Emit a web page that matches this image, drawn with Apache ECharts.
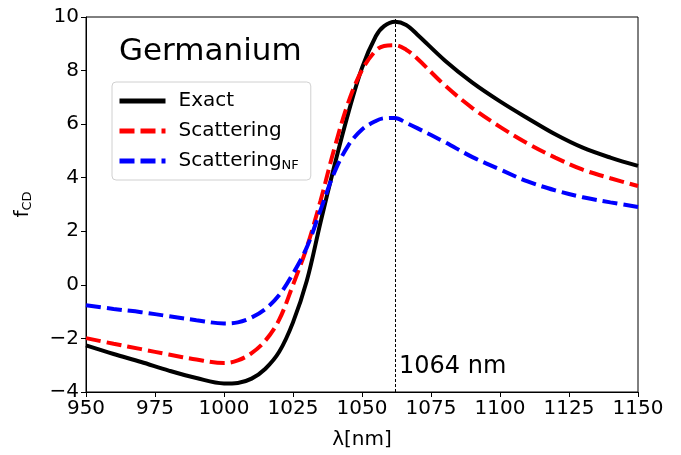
<!DOCTYPE html>
<html>
<head>
<meta charset="utf-8">
<script src="https://cdn.jsdelivr.net/npm/echarts@6/dist/echarts.min.js"></script>
<style>
  html, body { margin: 0; padding: 0; background: #fff; }
  #chart { width: 681px; height: 455px; }
</style>
</head>
<body>
<div id="chart"></div>
<script>
// wavelength grid (nm)
const lambda = [950, 960, 970, 980, 990, 1000, 1005, 1010, 1015, 1020, 1025, 1030, 1035, 1040, 1045,
  1050, 1055, 1058, 1062, 1066, 1070, 1080, 1090, 1100, 1110, 1120, 1130, 1140, 1150]

const exact = [-2.26, -2.58, -2.88, -3.20, -3.48, -3.68, -3.66, -3.50, -3.13, -2.50, -1.40, 0.15, 2.35,
  4.45, 6.40, 8.10, 9.28, 9.66, 9.82, 9.70, 9.35, 8.38, 7.55, 6.85, 6.22, 5.62, 5.12, 4.75, 4.44]

const scattering = [-1.99, -2.20, -2.40, -2.60, -2.79, -2.92, -2.82, -2.55, -2.08, -1.30, 0.00, 1.40, 3.15,
  5.10, 6.80, 8.02, 8.75, 8.92, 8.95, 8.78, 8.45, 7.45, 6.60, 5.90, 5.28, 4.75, 4.30, 3.98, 3.69]

const scatteringNF = [-0.76, -0.90, -1.02, -1.17, -1.32, -1.44, -1.40, -1.22, -0.90, -0.38, 0.42, 1.40, 2.80,
  4.20, 5.20, 5.80, 6.12, 6.22, 6.23, 6.05, 5.85, 5.33, 4.77, 4.31, 3.86, 3.53, 3.27, 3.08, 2.91]

const peakLine = 1062

const font = 'DejaVu Sans'
const pairs = (ys) => lambda.map((x, i) => [x, ys[i]])
const sub = { fontFamily: font, fontSize: 13, verticalAlign: 'bottom', padding: [9, 0, 0, 0], color: '#000' }

const chart = echarts.init(document.getElementById('chart'))

chart.setOption({
  animation: false,
  textStyle: { fontFamily: font },
  grid: { left: 86, right: 43, top: 17, bottom: 61, show: true, borderColor: '#000', borderWidth: 1 },
  title: {
    text: 'Germanium',
    left: 114,
    top: 31,
    textStyle: { fontFamily: font, fontSize: 31, fontWeight: 'normal', color: '#000' },
  },
  legend: {
    left: 112,
    top: 82,
    orient: 'vertical',
    itemWidth: 46,
    itemHeight: 14,
    itemGap: 10,
    padding: [9, 12, 8, 5],
    borderColor: '#d0d0d0',
    borderWidth: 1,
    borderRadius: 4,
    backgroundColor: 'rgba(255,255,255,0.8)',
    itemStyle: { opacity: 0 },
    lineStyle: { width: 5 },
    data: ['Exact', 'Scattering', 'ScatteringNF'],
    formatter: (name) => name === 'ScatteringNF' ? 'Scattering{sub|NF}' : name,
    textStyle: {
      fontFamily: font,
      fontSize: 20,
      color: '#000',
      padding: [0, 0, 0, 8],
      rich: { sub },
    },
  },
  xAxis: {
    type: 'value',
    min: 950,
    max: 1150,
    interval: 25,
    name: 'λ[nm]',
    nameLocation: 'middle',
    nameGap: 38,
    nameTextStyle: { fontFamily: font, fontSize: 20, color: '#000' },
    axisLine: { onZero: false, lineStyle: { color: '#000', width: 1 } },
    axisTick: { inside: false, length: 5, lineStyle: { color: '#000' } },
    axisLabel: { fontFamily: font, fontSize: 20, color: '#000', margin: 7, formatter: (v) => String(v) },
    splitLine: { show: false },
  },
  yAxis: {
    type: 'value',
    min: -4,
    max: 10,
    interval: 2,
    name: 'f{sub|CD}',
    nameLocation: 'middle',
    nameGap: 52,
    nameRotate: 90,
    nameTextStyle: { fontFamily: font, fontSize: 20, color: '#000', rich: { sub } },
    axisLine: { show: true, onZero: false, lineStyle: { color: '#000', width: 1 } },
    axisTick: { show: true, inside: false, length: 5, lineStyle: { color: '#000' } },
    axisLabel: {
      fontFamily: font,
      fontSize: 20,
      color: '#000',
      margin: 7,
      formatter: (v) => (v < 0 ? '\u2212' + Math.abs(v) : String(v)),
    },
    splitLine: { show: false },
  },
  series: [
    {
      name: 'Exact',
      type: 'line',
      data: pairs(exact),
      smooth: 0.35,
      showSymbol: false,
      symbol: 'none',
      color: '#000',
      lineStyle: { color: '#000', width: 4 },
      z: 3,
      markLine: {
        silent: true,
        symbol: 'none',
        label: { show: false },
        lineStyle: { color: '#000', width: 1, type: [3, 2] },
        data: [{ xAxis: peakLine }],
      },
    },
    {
      name: 'Scattering',
      type: 'line',
      data: pairs(scattering),
      smooth: 0.35,
      showSymbol: false,
      symbol: 'none',
      color: '#ff0000',
      lineStyle: { color: '#ff0000', width: 4, type: [15, 6] },
      z: 4,
    },
    {
      name: 'ScatteringNF',
      type: 'line',
      data: pairs(scatteringNF),
      smooth: 0.35,
      showSymbol: false,
      symbol: 'none',
      color: '#0000ff',
      lineStyle: { color: '#0000ff', width: 4, type: [15, 6] },
      z: 5,
    },
  ],
  graphic: [
    {
      type: 'text',
      left: 399,
      top: 355,
      style: { text: '1064 nm', fontFamily: font, fontSize: 24, fill: '#000' },
    },
  ],
})
</script>
</body>
</html>
